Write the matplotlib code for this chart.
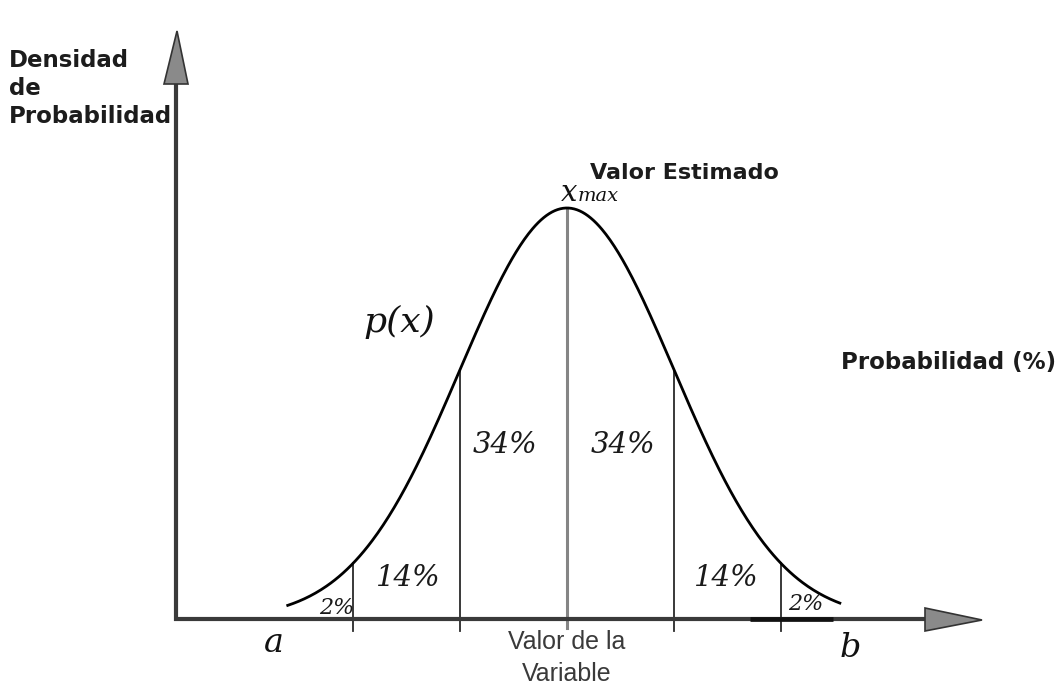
import numpy as np
import matplotlib
matplotlib.use("Agg")
import matplotlib.pyplot as plt
from matplotlib.patches import Polygon

# Normal distribution, expressed in standard-deviation units
mean_z = 0.0
curve_start_z = -2.61
curve_end_z = 2.55
boundaries_z = [-2, -1, 0, 1, 2]
band_labels = ["2%", "14%", "34%", "34%", "14%", "2%"]
band_label_x = [-2.15, -1.48, -0.58, 0.52, 1.49, 2.23]
band_label_y = [0.0107, 0.040, 0.169, 0.169, 0.040, 0.0146]
band_label_size = [16, 21, 21, 21, 21, 16]


def pdf(z):
    return np.exp(-0.5 * np.asarray(z) ** 2) / np.sqrt(2 * np.pi)


W, H = 1064, 686
fig = plt.figure(figsize=(W / 100, H / 100), dpi=100)
ax = fig.add_axes([0, 0, 1, 1])
ax.set_axis_off()

# pixel layout of the diagram frame
cx_px, sig_px, base_px, peak_px = 567, 107, 619, 208
ky = (base_px - peak_px) / pdf(0)
ax.set_xlim((0 - cx_px) / sig_px, (W - cx_px) / sig_px)
ax.set_ylim((base_px - H) / ky, base_px / ky)


def zx(px):
    return (px - cx_px) / sig_px


def zy(py):
    return (base_px - py) / ky


axis_col = "#3a3a3a"
head_fill = "#8a8a8a"

# vertical axis with arrow head
y_ax_x = zx(176)
ax.plot([y_ax_x, y_ax_x], [zy(621), zy(84)], color=axis_col, lw=3.0,
        solid_capstyle="butt", zorder=3)
ax.add_patch(Polygon([[zx(164), zy(84)], [zx(188), zy(84)], [zx(177), zy(31)]],
                     closed=True, facecolor=head_fill, edgecolor="#333333",
                     lw=1.2, zorder=4))

# horizontal axis with arrow head
ax.plot([zx(174), zx(926)], [0, 0], color=axis_col, lw=3.0,
        solid_capstyle="butt", zorder=3)
ax.add_patch(Polygon([[zx(925), zy(608)], [zx(925), zy(631)], [zx(982), zy(620)]],
                     closed=True, facecolor=head_fill, edgecolor="#333333",
                     lw=1.2, zorder=4))
ax.plot([zx(750), zx(833)], [0, 0], color="#111111", lw=3.4,
        solid_capstyle="butt", zorder=3)

# density curve
zs = np.linspace(curve_start_z, curve_end_z, 400)
ax.plot(zs, pdf(zs), color="black", lw=2.0, zorder=5)

# boundaries at whole standard deviations
for b in boundaries_z:
    if b == mean_z:
        ax.plot([b, b], [zy(628), pdf(b)], color="#858585", lw=2.2, zorder=2)
    else:
        ax.plot([b, b], [zy(631), pdf(b)], color="#2a2a2a", lw=1.3, zorder=2)

# band percentages
for lx, ly, txt, fs in zip(band_label_x, band_label_y, band_labels, band_label_size):
    ax.text(lx, ly, txt, fontsize=fs, fontstyle="italic", family="DejaVu Serif",
            ha="center", va="center", color="#1a1a1a", zorder=6)


def ftxt(x, y, s, **kw):
    fig.text(x / W, 1 - y / H, s, **kw)


sans_bold = dict(family="DejaVu Sans", fontweight="bold", color="#1c1c1c")
ftxt(9, 123, "Densidad\nde\nProbabilidad", fontsize=16.5, ha="left", va="baseline",
     linespacing=1.27, **sans_bold)
ftxt(590, 173, "Valor Estimado", fontsize=16, ha="left", va="center", **sans_bold)
ftxt(841, 362, "Probabilidad (%)", fontsize=16.5, ha="left", va="center", **sans_bold)

serif_it = dict(family="DejaVu Serif", fontstyle="italic", color="#111111")
ftxt(561, 201, "x", fontsize=21, ha="left", va="baseline", **serif_it)
ftxt(578, 201, "max", fontsize=14, ha="left", va="baseline", **serif_it)
ftxt(399, 322, "p(x)", fontsize=26, ha="center", va="center", **serif_it)
ftxt(274, 643, "a", fontsize=24, ha="center", va="center", **serif_it)
ftxt(850, 648, "b", fontsize=24, ha="center", va="center", **serif_it)

ftxt(567, 658, "Valor de la\nVariable", fontsize=18, ha="center", va="center",
     family="Liberation Sans", color="#3a3a3a", linespacing=1.45)

fig.savefig("out.png", dpi=100, facecolor="white")
